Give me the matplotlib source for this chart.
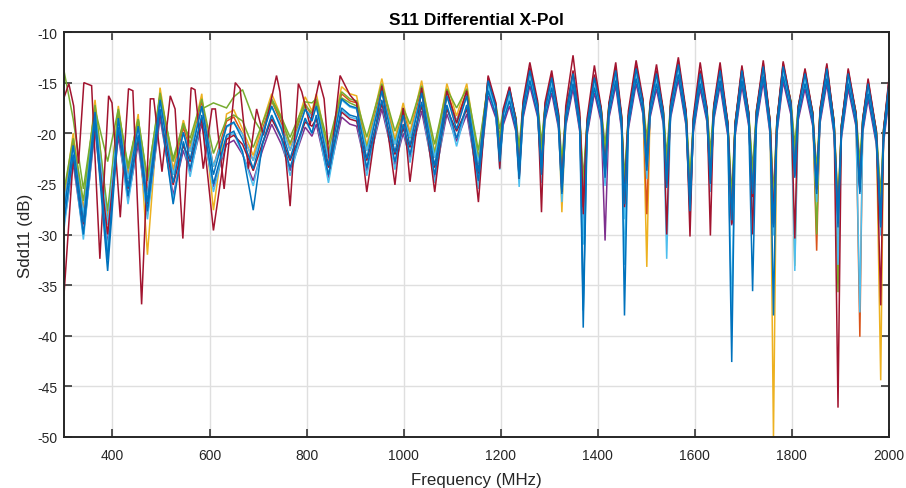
import matplotlib
matplotlib.use("Agg")
import matplotlib.pyplot as plt

plt.rcParams['font.family'] = ['Liberation Sans', 'DejaVu Sans']
plt.rcParams['axes.unicode_minus'] = False

# ---------------- data ----------------
freq = [300, 319, 340, 364, 390, 412, 432, 453, 472, 498,
        525, 546, 560, 584, 608, 635, 650, 668, 690, 709,
        728, 748, 766, 797, 811, 820, 845, 872, 889, 903,
        924, 955, 982, 999, 1013, 1037, 1064, 1089, 1109, 1130,
        1154, 1174, 1190, 1198, 1205, 1218, 1231, 1238, 1246, 1260,
        1276, 1284, 1291, 1305, 1319, 1326, 1334, 1349, 1363, 1370,
        1378, 1393, 1407, 1415, 1423, 1437, 1449, 1455, 1463, 1479,
        1493, 1501, 1508, 1521, 1535, 1542, 1550, 1566, 1582, 1590,
        1597, 1611, 1625, 1632, 1639, 1652, 1668, 1676, 1683, 1697,
        1711, 1719, 1727, 1741, 1755, 1762, 1769, 1782, 1798, 1806,
        1813, 1827, 1843, 1851, 1858, 1872, 1887, 1895, 1902, 1916,
        1932, 1940, 1946, 1957, 1974, 1983, 1989, 2000]

# outlier trace (dark red) has its own low-band sample points
freq_red_low = [300, 310, 320, 330, 341, 357, 374, 392, 399, 416,
                433, 442, 460, 478, 485, 502, 519, 529, 545, 562,
                570, 587, 605, 612, 630, 653, 663, 680, 697, 711,
                738, 745, 766, 783, 790, 807, 826, 836, 848, 869,
                889, 903, 924, 955, 982, 999, 1013, 1037, 1064, 1089,
                1109, 1130, 1154]

blue_a = [-28.7, -22.1, -30.0, -18.8, -33.6, -19.4, -26.2, -20.2, -27.7, -17.6,
          -27.0, -20.8, -23.5, -18.2, -25.0, -20.2, -19.8, -21.8, -27.6, -21.0,
          -18.2, -20.4, -23.4, -18.5, -20.0, -18.2, -24.1, -17.5, -18.2, -18.4,
          -23.4, -16.7, -22.8, -19.1, -22.1, -16.9, -24.1, -17.2, -20.5, -17.2,
          -24.7,
          -15.8, -18.2, -22.8, -18.9, -16.8, -19.5, -24.5, -18.2, -14.8, -18.1,
          -24.1, -18.5, -15.5, -19.2, -26.0, -19.0, -15.1, -19.6, -39.2, -19.9,
          -15.5, -18.6, -24.4, -18.2, -14.8, -19.4, -38.0, -19.3, -14.6, -17.8,
          -23.7, -18.1, -15.1, -18.8, -25.4, -18.2, -14.2, -19.0, -27.7, -19.6,
          -15.1, -18.6, -25.0, -18.4, -14.8, -20.0, -42.6, -20.0, -14.8, -19.0,
          -35.6, -18.8, -14.4, -19.8, -29.3, -19.8, -14.4, -17.9, -24.4, -18.4,
          -15.1, -19.0, -26.0, -18.7, -14.6, -19.9, -29.3, -20.2, -15.1, -19.0,
          -26.0, -19.6, -16.1, -20.8, -29.3, -20.6, -16.1]

orange = [-27.0, -20.7, -28.0, -17.4, -29.0, -18.0, -24.5, -18.8, -26.0, -16.2,
          -24.1, -19.4, -21.8, -16.8, -23.3, -18.8, -18.4, -20.1, -22.7, -19.6,
          -16.8, -19.0, -21.7, -17.1, -18.3, -16.8, -22.4, -16.1, -16.8, -17.0,
          -21.7, -15.3, -21.1, -17.7, -20.4, -15.5, -22.4, -15.8, -18.8, -15.8,
          -23.0,
          -15.0, -17.4, -21.1, -18.1, -16.0, -18.7, -22.8, -17.4, -14.0, -17.3,
          -22.4, -17.7, -14.7, -18.4, -24.3, -18.2, -14.3, -18.8, -26.0, -19.1,
          -14.7, -17.8, -22.7, -17.4, -14.0, -18.6, -26.0, -18.5, -13.8, -17.0,
          -28.0, -17.3, -14.3, -18.0, -23.7, -17.4, -13.4, -18.2, -26.0, -18.8,
          -14.3, -17.8, -23.3, -17.6, -14.0, -19.2, -27.6, -19.2, -14.0, -18.2,
          -25.0, -18.0, -13.6, -19.0, -27.6, -19.0, -13.6, -17.1, -22.7, -17.6,
          -14.3, -18.2, -31.6, -17.9, -13.8, -19.1, -27.6, -19.4, -14.3, -18.2,
          -40.1, -18.8, -15.3, -20.0, -27.6, -19.8, -15.3]

yellow = [-26.5, -20.0, -27.5, -16.7, -28.5, -17.3, -24.0, -18.1, -32.0, -15.5,
          -23.6, -18.7, -21.3, -16.1, -27.6, -18.1, -17.7, -19.6, -22.2, -19.0,
          -16.1, -18.4, -21.2, -16.4, -17.8, -16.1, -21.9, -15.4, -16.1, -16.3,
          -21.2, -14.6, -20.6, -17.0, -19.9, -14.8, -21.9, -15.1, -18.3, -15.1,
          -22.5,
          -14.7, -17.2, -21.3, -17.9, -15.7, -18.5, -23.0, -17.2, -13.7, -17.1,
          -22.6, -17.5, -14.4, -18.2, -27.8, -18.0, -14.0, -18.6, -26.2, -18.9,
          -14.4, -17.6, -22.9, -17.2, -13.7, -18.4, -26.2, -18.3, -13.5, -16.8,
          -33.2, -17.1, -14.0, -17.8, -23.9, -17.2, -13.1, -18.0, -26.2, -18.6,
          -14.0, -17.6, -23.5, -17.4, -13.7, -19.0, -27.8, -19.0, -13.7, -18.0,
          -25.2, -17.8, -13.3, -18.8, -50.0, -18.8, -13.3, -16.9, -33.1, -17.4,
          -14.0, -18.0, -24.5, -17.7, -13.5, -18.9, -27.8, -19.2, -14.0, -18.0,
          -24.5, -18.6, -15.0, -19.8, -44.4, -19.6, -15.0]

purple = [-29.0, -23.0, -30.0, -19.7, -31.0, -20.3, -26.5, -21.1, -28.0, -18.5,
          -26.1, -21.7, -23.8, -19.1, -25.3, -21.1, -20.7, -22.1, -24.7, -21.7,
          -19.1, -21.1, -23.7, -19.4, -20.3, -19.1, -24.4, -18.4, -19.1, -19.3,
          -23.7, -17.6, -23.1, -20.0, -22.4, -17.8, -24.4, -18.1, -20.8, -18.1,
          -25.0,
          -16.3, -18.5, -22.6, -19.2, -17.3, -19.8, -24.3, -18.5, -15.3, -18.4,
          -23.9, -18.8, -16.0, -19.5, -25.8, -19.3, -15.6, -19.9, -30.5, -20.2,
          -16.0, -18.9, -30.6, -18.5, -15.3, -19.7, -27.5, -19.6, -15.1, -18.1,
          -23.5, -18.4, -15.6, -19.1, -25.2, -18.5, -14.7, -19.3, -27.5, -19.9,
          -15.6, -18.9, -24.8, -18.7, -15.3, -20.3, -29.1, -20.3, -15.3, -19.3,
          -26.5, -19.1, -14.9, -20.1, -29.1, -20.1, -14.9, -18.2, -24.2, -18.7,
          -15.6, -19.3, -25.8, -19.0, -15.1, -20.2, -29.1, -20.5, -15.6, -19.3,
          -25.8, -19.9, -16.6, -21.1, -29.1, -20.9, -16.6]

green = [-25.7, -20.5, -26.7, -17.2, -27.7, -17.8, -23.2, -18.6, -24.7, -16.0,
         -22.8, -19.2, -20.5, -16.6, -22.0, -18.6, -18.2, -18.8, -21.4, -19.0,
         -16.6, -18.4, -20.4, -16.9, -17.0, -16.6, -21.1, -15.9, -16.6, -16.8,
         -20.4, -15.1, -19.8, -17.5, -19.1, -15.3, -21.1, -15.6, -17.5, -15.6,
         -21.7,
         -15.1, -17.1, -19.6, -17.8, -16.1, -18.4, -21.3, -17.1, -14.1, -17.0,
         -20.9, -17.4, -14.8, -18.1, -22.8, -17.9, -14.4, -18.5, -24.5, -18.8,
         -14.8, -17.5, -21.2, -17.1, -14.1, -18.3, -24.5, -18.2, -13.9, -16.7,
         -20.5, -17.0, -14.4, -17.7, -22.2, -17.1, -13.5, -17.9, -24.5, -18.5,
         -14.4, -17.5, -21.8, -17.3, -14.1, -18.9, -26.1, -18.9, -14.1, -17.9,
         -23.5, -17.7, -13.7, -18.7, -26.1, -18.7, -13.7, -16.8, -21.2, -17.3,
         -14.4, -17.9, -30.0, -17.6, -13.9, -18.8, -35.7, -19.1, -14.4, -17.9,
         -22.8, -18.5, -15.4, -19.7, -26.1, -19.5, -15.4]

light_blue = [-29.5, -22.3, -30.5, -19.0, -31.5, -19.6, -27.0, -20.4, -28.5, -17.8,
              -26.6, -21.0, -24.3, -18.4, -25.8, -20.4, -20.0, -22.0, -25.2, -21.2,
              -18.4, -20.6, -24.2, -18.7, -20.0, -18.4, -24.9, -17.7, -18.4, -18.6,
              -24.2, -16.9, -23.6, -19.3, -22.9, -17.1, -24.9, -17.4, -21.3, -17.4,
              -25.5,
              -15.5, -18.1, -23.6, -18.8, -16.5, -19.4, -25.3, -18.1, -14.5, -18.0,
              -24.9, -18.4, -15.2, -19.1, -26.8, -18.9, -14.8, -19.5, -31.0, -19.8,
              -15.2, -18.5, -25.2, -18.1, -14.5, -19.3, -28.5, -19.2, -14.3, -17.7,
              -24.5, -18.0, -14.8, -18.7, -32.4, -18.1, -13.9, -18.9, -28.5, -19.5,
              -14.8, -18.5, -25.8, -18.3, -14.5, -19.9, -38.0, -19.9, -14.5, -18.9,
              -27.5, -18.7, -14.1, -19.7, -30.1, -19.7, -14.1, -17.8, -33.6, -18.3,
              -14.8, -18.9, -26.8, -18.6, -14.3, -19.8, -30.1, -20.1, -14.8, -18.9,
              -37.7, -19.5, -15.8, -20.7, -30.1, -20.5, -15.8]

dark_red_outlier = [-16.5, -15.1, -17.3, -23.0, -15.0, -15.3, -32.4, -16.3, -17.0, -28.3,
                    -15.6, -15.8, -36.9, -16.6, -16.6, -23.8, -16.3, -17.6, -30.4, -15.5,
                    -15.7, -23.5, -17.6, -17.6, -25.5, -15.0, -15.6, -23.5, -17.6, -20.2,
                    -14.3, -15.9, -27.2, -15.1, -15.9, -19.2, -14.8, -16.6, -23.5, -14.3,
                    -16.2, -17.0, -25.8, -15.3, -25.1, -17.5, -24.8, -15.5, -25.8, -15.8,
                    -19.0, -15.8, -26.8,
                    -14.3, -17.0, -23.5, -17.6, -15.4, -18.6, -24.5, -16.8, -13.0, -16.8,
                    -27.8, -17.0, -13.8, -18.0, -25.8, -17.3, -12.3, -18.0, -28.0, -18.5,
                    -13.3, -17.5, -24.0, -17.0, -13.0, -18.2, -27.0, -17.8, -12.8, -16.6,
                    -23.0, -16.8, -13.2, -17.7, -30.0, -16.8, -12.5, -17.8, -30.2, -18.3,
                    -13.0, -17.5, -30.1, -17.2, -13.0, -19.0, -29.0, -19.0, -13.3, -18.0,
                    -30.0, -17.7, -12.8, -18.8, -29.0, -18.8, -12.9, -17.0, -30.4, -17.4,
                    -13.6, -18.0, -25.5, -17.6, -13.1, -19.0, -47.1, -19.3, -13.6, -18.0,
                    -25.5, -18.6, -14.6, -19.8, -37.0, -19.6, -14.6]

green_outlier = [-13.8, -18.6, -25.5, -17.6, -22.8, -17.6, -23.5, -18.6, -24.5, -16.3,
                 -22.5, -19.0, -21.0, -17.6, -17.0, -17.5, -16.4, -15.7, -18.5, -20.0,
                 -16.8, -18.6, -21.0, -17.2, -18.0, -17.0, -22.0, -16.5, -17.0, -17.3,
                 -21.5, -15.8, -21.0, -18.0, -20.5, -16.0, -22.0, -16.3, -19.0, -16.3,
                 -22.5,
                 -14.9, -17.3, -20.4, -18.0, -15.9, -18.6, -22.1, -17.3, -13.9, -17.2,
                 -21.7, -17.6, -14.6, -18.3, -23.6, -18.1, -14.2, -18.7, -25.3, -19.0,
                 -14.6, -17.7, -22.0, -17.3, -13.9, -18.5, -25.3, -18.4, -13.7, -16.9,
                 -21.3, -17.2, -14.2, -17.9, -23.0, -17.3, -13.3, -18.1, -25.3, -18.7,
                 -14.2, -17.7, -22.6, -17.5, -13.9, -19.1, -26.9, -19.1, -13.9, -18.1,
                 -24.3, -17.9, -13.5, -18.9, -26.9, -18.9, -13.5, -17.0, -22.0, -17.5,
                 -14.2, -18.1, -23.6, -17.8, -13.7, -19.0, -26.9, -19.3, -14.2, -18.1,
                 -23.6, -18.7, -15.2, -19.9, -26.9, -19.7, -15.2]

dark_red = [-36.0, -22.5, -29.0, -19.2, -30.0, -19.8, -25.5, -20.6, -27.0, -18.0,
            -25.1, -21.2, -22.8, -18.6, -29.6, -20.6, -20.2, -21.1, -23.7, -21.0,
            -18.6, -20.4, -22.7, -18.9, -19.3, -18.6, -23.4, -17.9, -18.6, -18.8,
            -22.7, -17.1, -22.1, -19.5, -21.4, -17.3, -23.4, -17.6, -19.8, -17.6,
            -24.0,
            -14.5, -17.3, -22.4, -18.0, -15.5, -18.6, -24.1, -17.3, -13.5, -17.2,
            -23.7, -17.6, -14.2, -18.3, -25.6, -18.1, -13.8, -18.7, -27.3, -19.0,
            -14.2, -17.7, -24.0, -17.3, -13.5, -18.5, -27.3, -18.4, -13.3, -16.9,
            -23.3, -17.2, -13.8, -17.9, -25.0, -17.3, -12.9, -18.1, -27.3, -18.7,
            -13.8, -17.7, -24.6, -17.5, -13.5, -19.1, -28.9, -19.1, -13.5, -18.1,
            -26.3, -17.9, -13.1, -18.9, -28.9, -18.9, -13.1, -17.0, -24.0, -17.5,
            -13.8, -18.1, -25.6, -17.8, -13.3, -19.0, -28.9, -19.3, -13.8, -18.1,
            -25.6, -18.7, -14.8, -19.9, -28.9, -19.7, -14.8]

light_blue_b = [-27.0, -21.3, -28.0, -18.0, -29.0, -18.6, -24.5, -19.4, -26.0, -16.8,
                -24.1, -20.0, -21.8, -17.4, -23.3, -19.4, -19.0, -20.1, -22.7, -19.9,
                -17.4, -19.3, -21.7, -17.7, -18.3, -17.4, -22.4, -16.7, -17.4, -17.6,
                -21.7, -15.9, -21.1, -18.3, -20.4, -16.1, -22.4, -16.4, -18.8, -16.4,
                -23.0,
                -15.3, -17.6, -22.1, -18.3, -16.3, -18.9, -23.8, -17.6, -14.3, -17.5,
                -23.4, -17.9, -15.0, -18.6, -25.3, -18.4, -14.6, -19.0, -27.0, -19.3,
                -15.0, -18.0, -23.7, -17.6, -14.3, -18.8, -33.0, -18.7, -14.1, -17.2,
                -23.0, -17.5, -14.6, -18.2, -24.7, -17.6, -13.7, -18.4, -27.0, -19.0,
                -14.6, -18.0, -24.3, -17.8, -14.3, -19.4, -28.6, -19.4, -14.3, -18.4,
                -26.0, -18.2, -13.9, -19.2, -28.6, -19.2, -13.9, -17.3, -23.7, -17.8,
                -14.6, -18.4, -25.3, -18.1, -14.1, -19.3, -33.0, -19.6, -14.6, -18.4,
                -25.3, -19.0, -15.6, -20.2, -28.6, -20.0, -15.6]

blue_b = [-27.8, -21.2, -28.8, -17.9, -32.5, -18.5, -25.3, -19.3, -26.8, -16.7,
          -24.9, -19.9, -22.6, -17.3, -24.1, -19.3, -18.9, -20.6, -23.5, -20.2,
          -17.3, -19.6, -22.5, -17.6, -18.8, -17.3, -23.2, -16.6, -17.3, -17.5,
          -22.5, -15.8, -21.9, -18.2, -21.2, -16.0, -23.2, -16.3, -19.6, -16.3,
          -23.8,
          -14.8, -17.4, -22.1, -18.1, -15.8, -18.7, -23.8, -17.4, -13.8, -17.3,
          -23.4, -17.7, -14.5, -18.4, -25.3, -18.2, -14.1, -18.8, -37.5, -19.1,
          -14.5, -17.8, -23.7, -17.4, -13.8, -18.6, -27.0, -18.5, -13.6, -17.0,
          -23.0, -17.3, -14.1, -18.0, -24.7, -17.4, -13.2, -18.2, -27.0, -18.8,
          -14.1, -17.8, -24.3, -17.6, -13.8, -19.2, -28.6, -19.2, -13.8, -18.2,
          -26.0, -18.0, -13.4, -19.0, -38.0, -19.0, -13.4, -17.1, -23.7, -17.6,
          -14.1, -18.2, -25.3, -17.9, -13.6, -19.1, -28.6, -19.4, -14.1, -18.2,
          -25.3, -18.8, -15.1, -20.0, -28.6, -19.8, -15.1]

x_ticks = [400, 600, 800, 1000, 1200, 1400, 1600, 1800, 2000]
y_ticks = [-50, -45, -40, -35, -30, -25, -20, -15, -10]

# ---------------- figure ----------------
C_BLUE, C_ORANGE, C_YELLOW = '#0072BD', '#D95319', '#EDB120'
C_PURPLE, C_GREEN, C_LBLUE, C_RED = '#7E2F8E', '#77AC30', '#4DBEEE', '#A2142F'

fig = plt.figure(figsize=(9.06, 4.89), dpi=100)
ax = fig.add_axes([0.0706, 0.1043, 0.9106, 0.8282])

freq_red = freq_red_low + freq[41:]

lw = 1.1
series = [
    (freq, yellow, C_YELLOW),
    (freq, orange, C_ORANGE),
    (freq, green, C_GREEN),
    (freq, green_outlier, C_GREEN),
    (freq, purple, C_PURPLE),
    (freq, light_blue_b, C_LBLUE),
    (freq, light_blue, C_LBLUE),
    (freq, dark_red, C_RED),
    (freq_red, dark_red_outlier, C_RED),
    (freq, blue_b, C_BLUE),
    (freq, blue_a, C_BLUE),
]
for fx, vy, col in series:
    ax.plot(fx, vy, color=col, lw=lw, solid_joinstyle='miter', zorder=3)

ax.set_xlim(300, 2000)
ax.set_ylim(-50, -10)
ax.set_xticks(x_ticks)
ax.set_yticks(y_ticks)
ax.grid(True, color='#dfdfdf', lw=1.0, zorder=0)
ax.set_axisbelow(True)

for s in ax.spines.values():
    s.set_linewidth(1.4)
    s.set_color('#262626')
    s.set_zorder(5)

ax.tick_params(direction='in', top=True, right=True, length=5.5, width=1.1,
               color='#262626', labelsize=10, labelcolor='#262626')
ax.tick_params(axis='x', pad=8)
ax.tick_params(axis='y', pad=5)

ax.set_title('S11 Differential X-Pol', fontsize=12.5, fontweight='bold',
             color='#000000', pad=6)
ax.set_xlabel('Frequency (MHz)', fontsize=12.2, color='#262626', labelpad=7)
ax.set_ylabel('Sdd11 (dB)', fontsize=12.2, color='#262626', labelpad=3)

fig.savefig('out.png', dpi=100)
